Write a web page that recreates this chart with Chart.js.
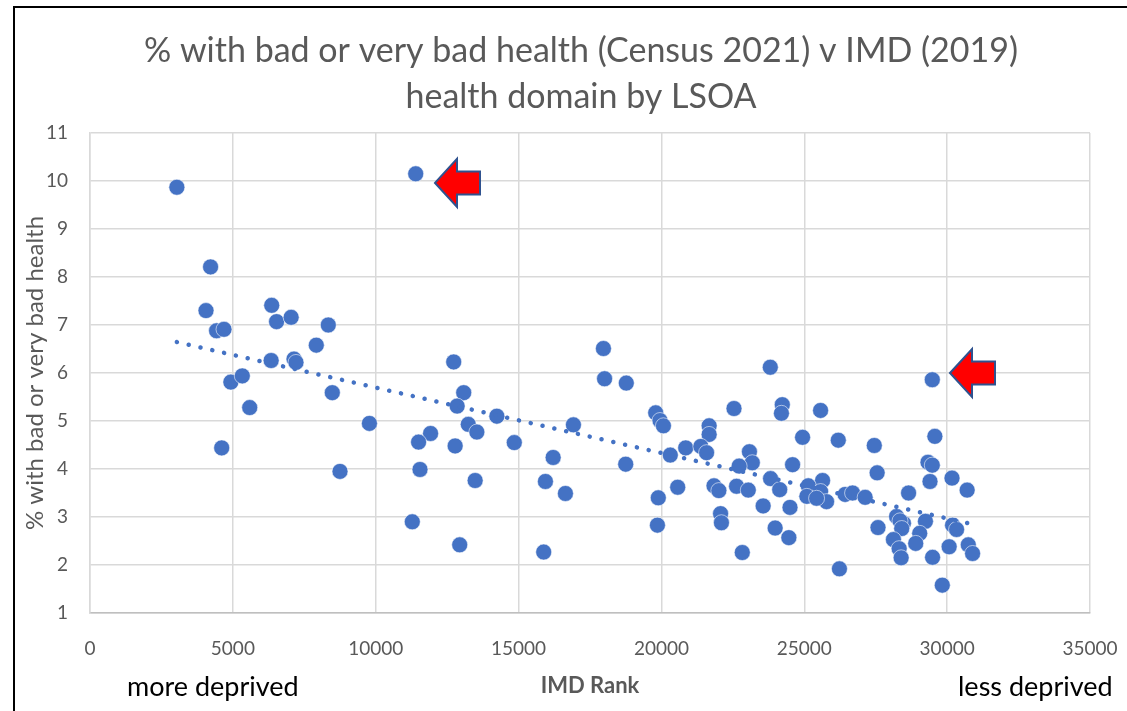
<!DOCTYPE html>
<html>
<head>
<meta charset="utf-8">
<script src="https://cdn.jsdelivr.net/npm/chart.js@4"></script>
<style>
  html, body { margin: 0; padding: 0; background: #fff; }
  #wrap { width: 1127px; height: 711px; position: relative; }
</style>
</head>
<body>
<div id="wrap"><canvas id="healthChart"></canvas></div>
<script>
// IMD rank of each LSOA
const imdRank = [
  3040, 11400, 4220, 4060, 6360, 6530, 7040, 8340, 4430, 4690,
  7920, 6340, 7140, 7210, 12730, 4930, 5330, 5590, 4610, 8480,
  9780, 8750, 13080, 12850, 13240, 13540, 11920, 11500, 12780, 11550,
  13480, 11280, 12940, 17970, 18010, 18770, 14240, 14850, 16920, 16210,
  15940, 16640, 18750, 15880, 19800, 19950, 20070, 20310, 20850, 19890,
  20570, 19860, 21670, 21670, 21380, 21580, 22540, 23810, 24230, 24200,
  23080, 23180, 22720, 24590, 21840, 22010, 22630, 23040, 23820, 24140,
  23560, 24500, 22070, 22100, 23980, 24460, 22830, 29480, 25570, 24940,
  26190, 27450, 29570, 29330, 29480, 27550, 30170, 30700, 29400, 25640,
  25140, 25090, 25570, 25780, 25430, 26430, 26690, 27130, 26230, 27580,
  28650, 28230, 28470, 28350, 28410, 28120, 28320, 28390, 29240, 29040,
  28900, 30190, 30330, 30070, 30740, 30890, 29490, 29830
];

// % with bad or very bad health (Census 2021)
const badHealthPct = [
  9.87, 10.15, 8.21, 7.30, 7.41, 7.07, 7.16, 7.00, 6.88, 6.91,
  6.58, 6.26, 6.29, 6.22, 6.23, 5.81, 5.94, 5.28, 4.44, 5.59,
  4.95, 3.95, 5.59, 5.31, 4.93, 4.77, 4.74, 4.56, 4.48, 3.99,
  3.76, 2.90, 2.42, 6.51, 5.88, 5.79, 5.10, 4.55, 4.92, 4.24,
  3.74, 3.49, 4.10, 2.27, 5.17, 5.01, 4.90, 4.29, 4.44, 3.40,
  3.62, 2.83, 4.90, 4.72, 4.47, 4.34, 5.26, 6.12, 5.34, 5.16,
  4.36, 4.13, 4.06, 4.09, 3.65, 3.55, 3.64, 3.56, 3.80, 3.57,
  3.23, 3.20, 3.07, 2.88, 2.77, 2.57, 2.26, 5.86, 5.22, 4.66,
  4.60, 4.49, 4.68, 4.14, 4.08, 3.92, 3.81, 3.56, 3.74, 3.76,
  3.65, 3.43, 3.53, 3.32, 3.39, 3.47, 3.50, 3.41, 1.92, 2.78,
  3.50, 3.01, 2.87, 2.92, 2.76, 2.53, 2.34, 2.15, 2.91, 2.66,
  2.45, 2.83, 2.74, 2.38, 2.42, 2.24, 2.16, 1.58
];

const xTicks = [0, 5000, 10000, 15000, 20000, 25000, 30000, 35000];
const yTicks = [1, 2, 3, 4, 5, 6, 7, 8, 9, 10, 11];

const titleLines = ["% with bad or very bad health (Census 2021) v IMD (2019)", "health domain by LSOA"];

// the two highlighted outliers (arrow tips, in data units)
const arrowTips = [
  { x: 12075, y: 9.96 },
  { x: 30100, y: 6.0 }
];

const points = imdRank.map((x, i) => ({ x: x, y: badHealthPct[i] }));

// linear trendline (least squares) over the data range
const n = points.length;
const mx = imdRank.reduce((a, b) => a + b, 0) / n;
const my = badHealthPct.reduce((a, b) => a + b, 0) / n;
let sxy = 0, sxx = 0;
points.forEach(p => { sxy += (p.x - mx) * (p.y - my); sxx += (p.x - mx) ** 2; });
const slope = sxy / sxx;
const icpt = my - slope * mx;
const xMin = Math.min(...imdRank), xMax = Math.max(...imdRank);
const trend = [
  { x: xMin, y: icpt + slope * xMin },
  { x: xMax, y: icpt + slope * xMax }
];

const FONT = "Lato, 'Open Sans', sans-serif";
const GREY = "#595959";

const extras = {
  id: "extras",
  afterDraw(chart) {
    const { ctx, scales: { x, y } } = chart;
    ctx.save();

    // title
    ctx.fillStyle = GREY;
    ctx.font = "34px " + FONT;
    ctx.textAlign = "center";
    ctx.textBaseline = "middle";
    ctx.fillText(titleLines[0], 581, 51);
    ctx.fillText(titleLines[1], 581, 97);

    // red block arrows
    arrowTips.forEach(t => {
      const px = x.getPixelForValue(t.x), py = y.getPixelForValue(t.y);
      ctx.beginPath();
      ctx.moveTo(px, py);
      ctx.lineTo(px + 22, py - 24);
      ctx.lineTo(px + 22, py - 11.5);
      ctx.lineTo(px + 45, py - 11.5);
      ctx.lineTo(px + 45, py + 11.5);
      ctx.lineTo(px + 22, py + 11.5);
      ctx.lineTo(px + 22, py + 24);
      ctx.closePath();
      ctx.fillStyle = "#FF0000";
      ctx.fill();
      ctx.lineWidth = 2;
      ctx.strokeStyle = "#2F528F";
      ctx.stroke();
    });

    // x-axis title and bottom notes
    ctx.fillStyle = GREY;
    ctx.font = "bold 22px " + FONT;
    ctx.textAlign = "center";
    ctx.fillText("IMD Rank", (x.left + x.right) / 2, 686);

    ctx.fillStyle = "#000";
    ctx.font = "27px " + FONT;
    ctx.textAlign = "left";
    ctx.fillText("more deprived", 127, 687);
    ctx.fillText("less deprived", 958, 687);

    // outer frame
    ctx.strokeStyle = "#000";
    ctx.lineWidth = 2;
    ctx.beginPath();
    ctx.moveTo(14, 711);
    ctx.lineTo(14, 7);
    ctx.lineTo(1127, 7);
    ctx.stroke();
    ctx.restore();
  }
};

new Chart(document.getElementById("healthChart"), {
  type: "scatter",
  data: {
    datasets: [
      {
        data: points,
        backgroundColor: "#4472C4",
        borderColor: "rgba(255,255,255,0.7)",
        borderWidth: 0.8,
        pointRadius: 8,
        pointHoverRadius: 8,
        order: 2
      },
      {
        type: "line",
        data: trend,
        borderColor: "#4472C4",
        borderWidth: 4.5,
        borderDash: [0.1, 12],
        borderCapStyle: "round",
        pointRadius: 0,
        fill: false,
        order: 1
      }
    ]
  },
  options: {
    responsive: true,
    maintainAspectRatio: false,
    animation: false,
    layout: { padding: { left: 0, right: 37, top: 133, bottom: 0 } },
    plugins: {
      legend: { display: false },
      tooltip: { enabled: false },
      title: { display: false }
    },
    scales: {
      x: {
        type: "linear",
        min: 0,
        max: 35000,
        afterBuildTicks: s => { s.ticks = xTicks.map(v => ({ value: v })); },
        afterFit: s => { s.height = 98; s.paddingLeft = 0; s.paddingRight = 0; },
        grid: { color: "#d9d9d9", lineWidth: 1.5, drawTicks: false },
        border: { color: "#bfbfbf", width: 1.5 },
        ticks: { color: GREY, font: { family: FONT, size: 19 }, padding: 24, maxRotation: 0, callback: v => String(v) }
      },
      y: {
        min: 1,
        max: 11,
        afterBuildTicks: s => { s.ticks = yTicks.map(v => ({ value: v })); },
        afterFit: s => { s.width = 90; s.paddingTop = 0; s.paddingBottom = 0; },
        grid: { color: "#d9d9d9", lineWidth: 1.5, drawTicks: false },
        border: { color: "#d9d9d9", width: 1.5 },
        ticks: { color: GREY, font: { family: FONT, size: 19 }, padding: 22, callback: v => String(v) },
        title: {
          display: true,
          text: "% with bad or very bad health",
          color: GREY,
          font: { family: FONT, size: 24, weight: "normal" },
          padding: { top: 21 }
        }
      }
    }
  },
  plugins: [extras]
});
</script>
</body>
</html>
